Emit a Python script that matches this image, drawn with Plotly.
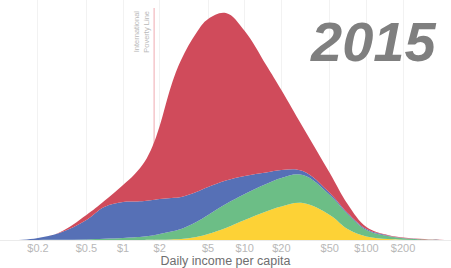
import math
import plotly.graph_objects as go

# Daily income per capita (USD, log scale) sample points
income = [0.1, 0.15, 0.2, 0.3, 0.5, 0.7, 1, 1.25, 1.5, 1.75, 2, 2.5, 3, 4, 5, 7, 10, 15, 20, 30, 50, 70, 100, 150, 200, 300, 400, 500]

# Layer heights (stacked, bottom to top)
yellow = [0, 0, 0, 0, 0, 0, 0.05, 0.07, 0.1, 0.2, 0.3, 0.6, 1, 3, 6, 12, 20, 28.5, 33.5, 37, 25, 11, 3.5, 1, 0.3, 0.05, 0, 0]
green = [0, 0, 0.05, 0.2, 0.6, 1.2, 1.95, 2.63, 3.4, 4.3, 5.7, 7.9, 10, 15, 19, 24, 26, 27.5, 28.5, 28, 20, 15, 6.5, 3, 1.5, 0.45, 0.1, 0]
blue = [0, 0.3, 1.95, 6.8, 19.4, 31.8, 36, 35.8, 35.5, 35.5, 35, 33.5, 32, 30, 28, 23.5, 18, 11.5, 8, 4, 2, 1, 1, 0.5, 0.2, 0.1, 0, 0]
red = [0, 0, 0, 0.5, 5, 6, 17, 27.5, 39, 54, 73, 113, 137, 159, 168, 167.5, 145, 107.5, 80, 44, 20, 9, 2, 0.5, 0.5, 0.4, 0.1, 0]

tick_vals = [0.2, 0.5, 1, 2, 5, 10, 20, 50, 100, 200]
tick_text = ["$0.2", "$0.5", "$1", "$2", "$5", "$10", "$20", "$50", "$100", "$200"]

poverty_line = 1.8
poverty_top = 232
year = "2015"

layers = [
    ("yellow", yellow, "#FDD236"),
    ("green", green, "#6CBE86"),
    ("blue", blue, "#5670B6"),
    ("red", red, "#D04B5B"),
]

fig = go.Figure()

fig.add_trace(go.Scatter(
    x=[poverty_line, poverty_line], y=[0, poverty_top], mode="lines",
    line=dict(color="#EFA9B0", width=1), hoverinfo="skip", showlegend=False,
))

for name, vals, col in layers:
    fig.add_trace(go.Scatter(
        x=income, y=vals, name=name, mode="lines", stackgroup="one",
        line=dict(width=0, shape="spline", smoothing=1.1, color=col),
        fillcolor=col, showlegend=False,
    ))

fig.add_annotation(
    x=math.log10(poverty_line), y=0.962, xref="x", yref="paper",
    text="International<br>Poverty Line", textangle=-90,
    showarrow=False, xanchor="right", yanchor="top", align="right", xshift=-1,
    font=dict(family="Liberation Sans, Arial, sans-serif", size=7.5, color="#B8B8B8"),
)

fig.add_annotation(
    x=373 / 451, y=1 - 41 / 240, xref="paper", yref="paper", text="<b><i>" + year + "</i></b>",
    showarrow=False, xanchor="center", yanchor="middle",
    font=dict(family="Liberation Sans, Arial, sans-serif", size=56, color="#7F7F7F"),
)

fig.update_xaxes(
    type="log", range=[-1.011, 2.695],
    tickvals=tick_vals, ticktext=tick_text,
    showgrid=True, gridcolor="#F2F2F2", gridwidth=1,
    zeroline=False, showline=False, ticks="",
    tickfont=dict(family="Liberation Sans, Arial, sans-serif", size=11, color="#B8B8B8"),
    title=dict(text="Daily income per capita", standoff=2,
               font=dict(family="Liberation Sans, Arial, sans-serif", size=12.5, color="#6E6E6E")),
    fixedrange=True,
)
fig.update_yaxes(
    range=[0, 240], showgrid=False, zeroline=True, zerolinecolor="#EBEBEB", zerolinewidth=1,
    showticklabels=False, fixedrange=True,
)

fig.update_layout(
    width=451, height=268,
    margin=dict(l=0, r=0, t=0, b=28),
    paper_bgcolor="white", plot_bgcolor="white",
    showlegend=False,
)

fig.write_html("out.html", config={"displayModeBar": False})
